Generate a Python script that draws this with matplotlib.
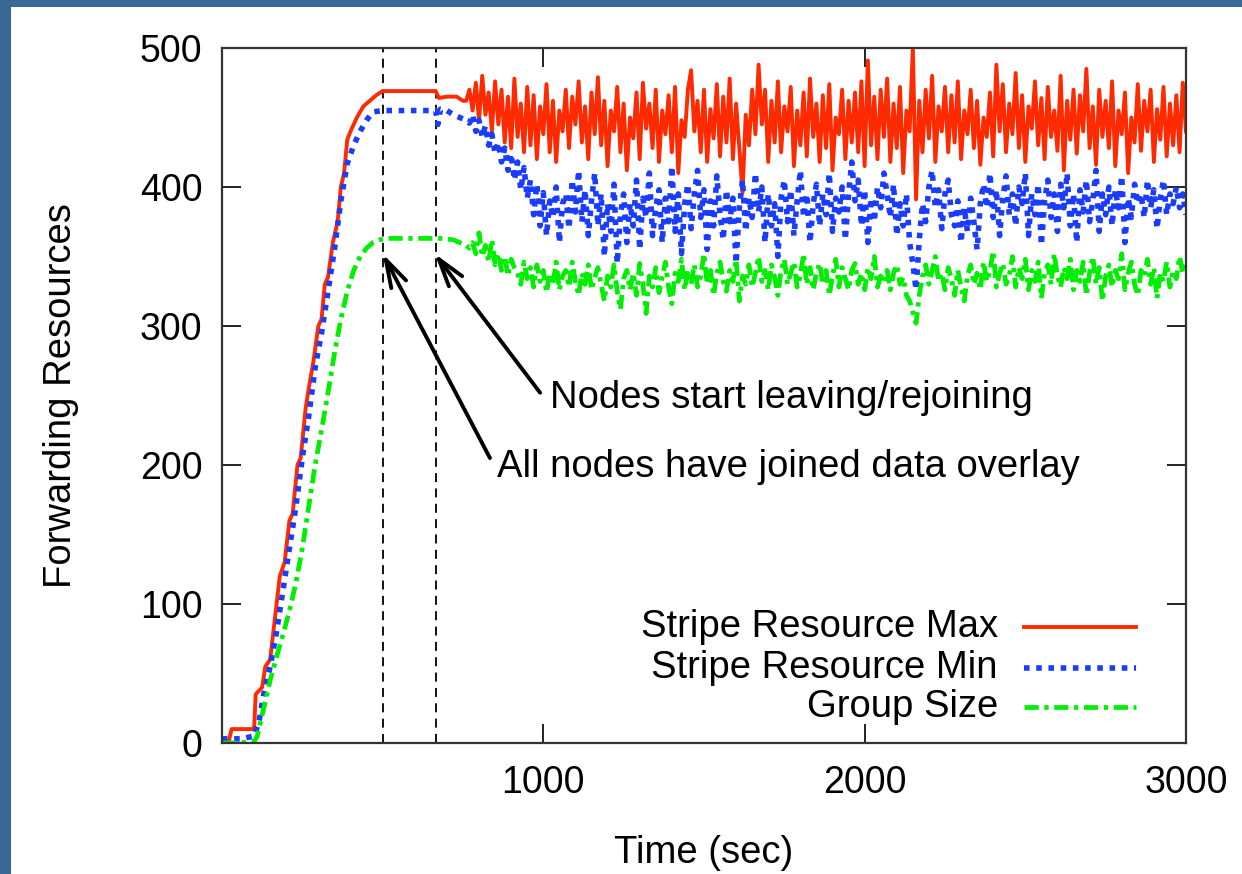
import numpy as np
import matplotlib
matplotlib.use("Agg")
import matplotlib.pyplot as plt
from matplotlib.patches import Rectangle

plt.rcParams["font.family"] = ["Liberation Sans", "DejaVu Sans"]

# start-up ramp, sampled irregularly
max_ramp_t = [0, 20, 30, 100, 105, 125, 135, 150, 165, 180, 195, 210, 220, 235,
              245, 260, 270, 285, 300, 310, 320, 330, 345, 360, 370, 380, 390,
              400, 420, 440, 460, 480, 500, 520, 560, 600, 640, 665, 675, 700,
              730, 750]
max_ramp = [0, 0, 10, 10, 35, 40, 55, 60, 90, 120, 130, 160, 165, 200,
            205, 240, 255, 275, 300, 305, 330, 335, 360, 375, 400, 410, 434,
            440, 450, 458, 462, 466, 469, 469, 469, 469, 469, 469, 464, 465,
            465, 462]

min_ramp_t = [0, 60, 100, 115, 130, 150, 170, 190, 210, 230, 250, 270, 290,
              310, 330, 350, 370, 390, 410, 430, 450, 470, 500, 560, 620, 665,
              672, 680, 700, 720, 740, 760]
min_ramp = [3, 3, 5, 15, 35, 55, 80, 110, 140, 170, 205, 235, 270,
            295, 325, 355, 390, 417, 430, 440, 448, 454, 455, 455, 455, 455,
            445, 456, 455, 452, 450, 448]

group_ramp_t = [0, 50, 100, 110, 130, 150, 170, 190, 210, 230, 250, 270, 290,
                310, 330, 350, 370, 390, 410, 430, 450, 470, 490, 510, 560, 620,
                680, 720, 740, 760]
group_ramp = [0, 0, 1, 5, 25, 45, 62, 78, 95, 115, 140, 170, 200,
              225, 252, 280, 305, 325, 340, 350, 356, 360, 362, 363, 363, 363,
              363, 362, 360, 358]

# churn phase, one sample every 10 s
max_churn_t = np.arange(760, 3001, 10)
max_churn = [
    462, 470, 455, 475, 448, 480, 452, 468, 440, 476,
    445, 470, 432, 465, 428, 478, 436, 460, 425, 472,
    430, 466, 420, 458, 438, 474, 425, 462, 418, 455,
    440, 470, 428, 465, 445, 476, 432, 458, 420, 468,
    438, 479, 430, 462, 415, 455, 440, 472, 425, 460,
    412, 450, 435, 468, 420, 475, 442, 460, 428, 470,
    418, 455, 438, 466, 425, 472, 410, 448, 436, 470,
    484, 440, 462, 425, 470, 418, 456, 435, 474, 422,
    465, 432, 478, 420, 460, 428, 396, 452, 430, 470,
    438, 488, 445, 470, 418, 462, 432, 476, 425, 458,
    440, 472, 415, 455, 430, 468, 422, 478, 436, 460,
    418, 466, 428, 474, 412, 450, 438, 470, 420, 462,
    432, 468, 425, 476, 415, 491, 430, 465, 420, 470,
    436, 478, 418, 460, 428, 472, 410, 455, 440, 500,
    391, 462, 425, 470, 435, 480, 418, 458, 440, 472,
    425, 466, 432, 476, 420, 455, 438, 470, 428, 462,
    416, 450, 436, 468, 422, 488, 440, 474, 425, 460,
    438, 482, 428, 466, 418, 458, 442, 476, 430, 464,
    420, 472, 436, 455, 426, 480, 412, 462, 434, 470,
    424, 466, 440, 485, 428, 458, 416, 470, 436, 462,
    428, 476, 415, 455, 438, 468, 410, 450, 432, 474,
    426, 462, 440, 470, 418, 456, 434, 472, 422, 460,
    430, 466, 425, 475, 440,
]

churn_t = np.arange(770, 3001, 10)
min_churn = [
    446, 452, 440, 448, 436, 444, 430, 438, 424, 432,
    418, 428, 412, 424, 405, 418, 398, 414, 392, 405,
    380, 402, 372, 396, 365, 390, 378, 400, 360, 388,
    395, 370, 405, 382, 412, 375, 398, 365, 390, 410,
    372, 395, 350, 388, 368, 402, 345, 380, 395, 360,
    388, 372, 405, 355, 392, 378, 410, 365, 385, 398,
    360, 392, 375, 415, 368, 395, 352, 388, 402, 370,
    395, 412, 378, 398, 355, 390, 372, 408, 380, 362,
    398, 375, 392, 345, 385, 405, 368, 392, 378, 410,
    382, 400, 360, 395, 372, 388, 350, 392, 405, 375,
    398, 365, 390, 412, 378, 395, 360, 388, 402, 372,
    395, 380, 410, 368, 392, 382, 400, 362, 395, 418,
    390, 405, 372, 398, 360, 392, 375, 400, 385, 410,
    395, 378, 402, 365, 388, 372, 395, 360, 345, 326,
    362, 388, 375, 400, 412, 385, 398, 370, 395, 405,
    380, 372, 390, 360, 385, 368, 392, 375, 355, 388,
    402, 385, 410, 378, 398, 365, 392, 408, 380, 395,
    372, 400, 388, 410, 365, 395, 380, 402, 358, 390,
    405, 378, 395, 368, 402, 385, 410, 372, 395, 360,
    398, 382, 405, 375, 390, 412, 368, 395, 380, 400,
    372, 398, 385, 408, 360, 392, 378, 402, 388, 395,
    378, 405, 385, 398, 370, 392, 405, 380, 395, 388,
    400, 385, 395, 380,
]
group_churn = [
    356, 360, 352, 367, 350, 358, 346, 362, 344, 352,
    340, 350, 336, 348, 342, 338, 330, 346, 334, 342,
    328, 344, 332, 340, 324, 338, 330, 346, 326, 336,
    340, 328, 346, 332, 322, 338, 330, 344, 326, 335,
    342, 330, 318, 336, 328, 344, 325, 312, 334, 340,
    326, 338, 322, 345, 330, 309, 336, 328, 342, 324,
    335, 346, 328, 316, 338, 332, 348, 326, 340, 330,
    344, 328, 336, 352, 330, 340, 322, 338, 346, 332,
    325, 340, 332, 348, 318, 336, 330, 344, 328, 338,
    350, 332, 340, 326, 344, 335, 322, 340, 348, 330,
    338, 346, 328, 336, 352, 330, 342, 326, 338, 345,
    330, 340, 322, 336, 348, 328, 342, 334, 326, 340,
    345, 330, 338, 326, 342, 334, 350, 328, 336, 332,
    340, 326, 338, 344, 330, 335, 322, 318, 310, 302,
    322, 336, 344, 330, 340, 350, 332, 338, 326, 342,
    334, 322, 340, 328, 318, 336, 344, 330, 338, 326,
    346, 332, 340, 354, 328, 338, 345, 330, 336, 350,
    328, 342, 334, 348, 326, 340, 332, 346, 320, 338,
    344, 330, 352, 336, 328, 342, 334, 348, 326, 340,
    332, 346, 322, 338, 350, 330, 342, 318, 336, 344,
    328, 340, 334, 352, 326, 338, 346, 330, 322, 340,
    336, 348, 330, 342, 320, 338, 332, 346, 328, 340,
    334, 350, 338, 345,
]

event_times = [500, 665]
labels = ["Stripe Resource Max", "Stripe Resource Min", "Group Size"]
colors = ["#ff2a00", "#1a3cff", "#00ee00"]

t_max = np.concatenate([max_ramp_t, max_churn_t])
y_max = np.concatenate([max_ramp, max_churn])
t_min = np.concatenate([min_ramp_t, churn_t])
y_min = np.concatenate([min_ramp, min_churn])
t_grp = np.concatenate([group_ramp_t, churn_t])
y_grp = np.concatenate([group_ramp, group_churn])

styles = [
    dict(lw=2.8, linestyle="-"),
    dict(lw=4.0, linestyle=(0, (1, 1.2)), dash_capstyle="butt"),
    dict(lw=3.4, linestyle=(0, (3, 1.2, 0.9, 1.2)), dash_capstyle="butt"),
]

fig = plt.figure(figsize=(12.42, 8.74), dpi=100, facecolor="#386894")
fig.add_artist(Rectangle((11 / 1242, 0), 1, 1 - 7 / 874,
                         transform=fig.transFigure, facecolor="white",
                         edgecolor="none", zorder=0))
ax = fig.add_axes([0.1787, 0.1499, 0.7762, 0.7952])

series = [(t_max, y_max), (t_min, y_min), (t_grp, y_grp)]
for (t, y), c, st in zip(series, colors, styles):
    ax.plot(t, y, color=c, **st)

for et in event_times:
    ax.axvline(et, color="black", lw=1.3, linestyle=(0, (5, 3.5)), zorder=1)

ax.set_xlim(0, 3000)
ax.set_ylim(0, 500)
ax.set_xticks([1000, 2000, 3000])
ax.set_yticks([0, 100, 200, 300, 400, 500])
ax.tick_params(direction="in", length=14, width=1.4, top=True, right=True,
               labelsize=27, pad=16, colors="#222222", labelcolor="black")
ax.tick_params(axis="y", pad=14)
for s in ax.spines.values():
    s.set_linewidth(1.6)
    s.set_color("#333333")

ax.set_xlabel("Time (sec)", fontsize=27.5, labelpad=24)
ax.set_ylabel("Forwarding Resources", fontsize=27.5, labelpad=44)

arrow = dict(arrowstyle="->,head_length=2.0,head_width=0.6", color="black",
             lw=2.8, shrinkA=0, shrinkB=0)
ax.annotate("", xy=(500, 352), xytext=(834, 205), arrowprops=arrow)
ax.annotate("", xy=(662, 352), xytext=(990, 252), arrowprops=arrow)
ax.text(856, 198.6, "All nodes have joined data overlay", fontsize=27.5,
        ha="left", va="center")
ax.text(1021, 248, "Nodes start leaving/rejoining", fontsize=27.5,
        ha="left", va="center")

# key in the lower right, labels right-aligned ahead of the line samples
rows = [0.167, 0.108, 0.052]
for lab, c, st, yr in zip(labels, colors, styles, rows):
    ax.text(0.805, yr, lab, transform=ax.transAxes, fontsize=27.5,
            ha="right", va="center")
    ax.plot([0.832, 0.948], [yr, yr], transform=ax.transAxes, color=c, **st)

fig.savefig("out.png", dpi=100, facecolor=fig.get_facecolor())
